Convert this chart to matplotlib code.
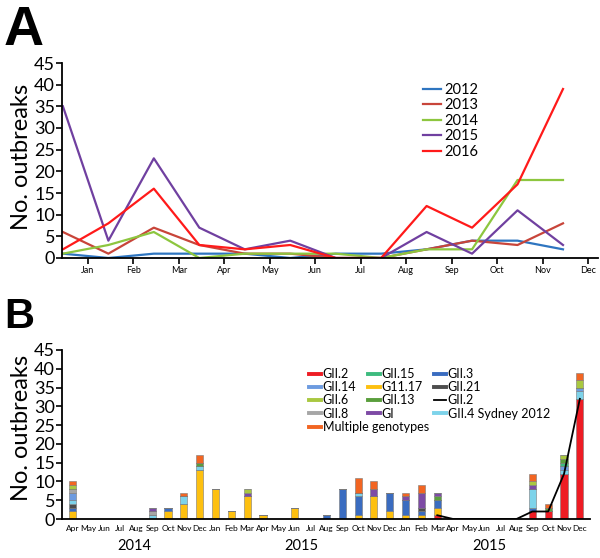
import numpy as np
import matplotlib
matplotlib.use("Agg")
import matplotlib.pyplot as plt
from matplotlib.lines import Line2D

plt.rcParams['font.family'] = ['Lato', 'DejaVu Sans']

# ---- panel A: monthly outbreaks per year
months_a = ["Jan", "Feb", "Mar", "Apr", "May", "Jun", "Jul", "Aug", "Sep", "Oct", "Nov", "Dec"]
y2012 = [1, 0, 1, 1, 1, 0, 1, 1, 2, 4, 4, 2]
y2013 = [6, 1, 7, 3, 1, 1, 0, 0, 2, 4, 3, 8]
y2014 = [1, 3, 6, 0, 1, 1, 1, 0, 2, 2, 18, 18]
y2015 = [35, 4, 23, 7, 2, 4, 0, 0, 6, 1, 11, 3]
y2016 = [2, 8, 16, 3, 2, 3, 0, 0, 12, 7, 17, 39]
years_a = ["2012", "2013", "2014", "2015", "2016"]
colors_a = ["#2e75c0", "#c8453a", "#8dc63f", "#7040a0", "#ff1a1a"]

# ---- panel B: genotypes by month, Apr 2014 - Dec 2016
months_b = ["Apr", "May", "Jun", "Jul", "Aug", "Sep", "Oct", "Nov", "Dec",
            "Jan", "Feb", "Mar", "Apr", "May", "Jun", "Jul", "Aug", "Sep", "Oct", "Nov", "Dec",
            "Jan", "Feb", "Mar", "Apr", "May", "Jun", "Jul", "Aug", "Sep", "Oct", "Nov", "Dec"]
year_labels = ["2014", "2015", "2015"]
year_pos = [3.9, 14.4, 26.3]

gii2     = [0, 0, 0, 0, 0, 0, 0, 0, 0, 0, 0, 0, 0, 0, 0, 0, 0, 0, 0, 0, 0, 0, 0, 1, 0, 0, 0, 0, 0, 2, 2, 12, 32]
g1117    = [2, 0, 0, 0, 0, 0, 2, 4, 13, 8, 2, 6, 1, 0, 3, 0, 0, 0, 1, 6, 2, 1, 1, 2, 0, 0, 0, 0, 0, 0, 0, 0, 0]
gii3     = [1, 0, 0, 0, 0, 0, 1, 0, 0, 0, 0, 0, 0, 0, 0, 0, 1, 8, 5, 0, 5, 4, 1, 2, 0, 0, 0, 0, 0, 1, 0, 0, 0]
gii21    = [1, 0, 0, 0, 0, 0, 0, 0, 0, 0, 0, 0, 0, 0, 0, 0, 0, 0, 0, 0, 0, 0, 1, 0, 0, 0, 0, 0, 0, 0, 0, 0, 0]
gii4     = [1, 0, 0, 0, 0, 1, 0, 2, 1, 0, 0, 0, 0, 0, 0, 0, 0, 0, 1, 0, 0, 0, 0, 0, 0, 0, 0, 0, 0, 5, 0, 1, 2]
gii14    = [2, 0, 0, 0, 0, 0, 0, 0, 0, 0, 0, 0, 0, 0, 0, 0, 0, 0, 0, 0, 0, 0, 0, 0, 0, 0, 0, 0, 0, 0, 0, 1, 1]
gii8     = [1, 0, 0, 0, 0, 1, 0, 0, 0, 0, 0, 0, 0, 0, 0, 0, 0, 0, 0, 0, 0, 0, 0, 0, 0, 0, 0, 0, 0, 0, 0, 0, 0]
gii15    = [0, 0, 0, 0, 0, 0, 0, 0, 0, 0, 0, 0, 0, 0, 0, 0, 0, 0, 0, 0, 0, 0, 0, 0, 0, 0, 0, 0, 0, 0, 0, 1, 0]
gii13    = [0, 0, 0, 0, 0, 0, 0, 0, 1, 0, 0, 0, 0, 0, 0, 0, 0, 0, 0, 0, 0, 0, 0, 1, 0, 0, 0, 0, 0, 0, 1, 1, 0]
gi       = [0, 0, 0, 0, 0, 1, 0, 0, 0, 0, 0, 1, 0, 0, 0, 0, 0, 0, 0, 2, 0, 1, 4, 1, 0, 0, 0, 0, 0, 1, 0, 0, 0]
gii6     = [1, 0, 0, 0, 0, 0, 0, 0, 0, 0, 0, 1, 0, 0, 0, 0, 0, 0, 0, 0, 0, 0, 0, 0, 0, 0, 0, 0, 0, 1, 0, 1, 2]
multiple = [1, 0, 0, 0, 0, 0, 0, 1, 2, 0, 0, 0, 0, 0, 0, 0, 0, 0, 4, 2, 0, 1, 2, 0, 0, 0, 0, 0, 0, 2, 1, 0, 2]
# GII.2 trend line, Mar 2016 onward
line_start = 23
gii2_line = [1, 0, 0, 0, 0, 0, 2, 2, 12, 32]

stack = [("GII.2", gii2, "#ee1c24"), ("G11.17", g1117, "#fdc010"), ("GII.3", gii3, "#3a6cc0"),
         ("GII.21", gii21, "#4d4d4d"), ("GII.4 Sydney 2012", gii4, "#7dd3ea"),
         ("GII.14", gii14, "#6d9be0"), ("GII.8", gii8, "#a6a6a6"), ("GII.15", gii15, "#3dbb7e"),
         ("GII.13", gii13, "#5a9e3c"), ("GI", gi, "#7d4aa5"), ("GII.6", gii6, "#a9c840"),
         ("Multiple genotypes", multiple, "#f26522")]

fig = plt.figure(figsize=(6, 5.58), dpi=100)
W, H = 600, 558

def style_axes(ax):
    for s in ["top", "right"]:
        ax.spines[s].set_visible(False)
    for s in ["left", "bottom"]:
        ax.spines[s].set_linewidth(1.3)
    ax.set_ylim(0, 45)
    ax.set_yticks(np.arange(0, 46, 5))
    ax.tick_params(axis="y", labelsize=13, length=4, width=1.2, pad=1)


# panel A
axA = fig.add_axes([62 / W, 1 - 258 / H, 536 / W, 195 / H])
xa = np.arange(len(months_a))
for lab, vals, c in zip(years_a, [y2012, y2013, y2014, y2015, y2016], colors_a):
    axA.plot(xa, vals, color=c, lw=1.6, label=lab)
style_axes(axA)
axA.set_xlim(-0.02, 11.77)
axA.set_xticks(xa + 0.55)
axA.set_xticklabels(months_a)
axA.tick_params(axis="x", labelsize=6.5, length=4, width=1.2, pad=2)
axA.legend(loc="upper left", bbox_to_anchor=(423 / W, 1 - 83 / H), bbox_transform=fig.transFigure,
           frameon=False, fontsize=10.5, handlelength=1.2, handletextpad=0.25,
           labelspacing=0.1, borderpad=0, borderaxespad=0)

# panel B
axB = fig.add_axes([62 / W, 1 - 519 / H, 528 / W, 169 / H])
xb = np.arange(len(months_b))
bottom = np.zeros(len(months_b))
handles = {}
for lab, vals, c in stack:
    vals = np.array(vals, dtype=float)
    axB.bar(xb, vals, bottom=bottom, width=0.45, color=c, edgecolor="#7a7a7a", linewidth=0.4)
    bottom += vals
    handles[lab] = Line2D([], [], color=c, lw=2.8)
axB.plot(np.arange(line_start, line_start + len(gii2_line)), gii2_line, color="black", lw=1.3)
handles["GII.2 line"] = Line2D([], [], color="black", lw=1.3)
style_axes(axB)
axB.set_xlim(-0.69, 32.64)
axB.set_xticks(xb)
axB.set_xticklabels(months_b)
axB.tick_params(axis="x", labelsize=6, length=0, pad=4)
for lab, pos in zip(year_labels, year_pos):
    axB.text(pos, -0.16, lab, transform=axB.get_xaxis_transform(), ha="center", va="center", fontsize=10.5)

cols = [["GII.2", "GII.14", "GII.6", "GII.8", "Multiple genotypes"],
        ["GII.15", "G11.17", "GII.13", "GI"],
        ["GII.3", "GII.21", "GII.2 line", "GII.4 Sydney 2012"]]
col_x = [309, 368, 434]
for names, cx in zip(cols, col_x):
    fig.legend([handles[n] for n in names], [n.replace(" line", "") for n in names],
               loc="upper left", bbox_to_anchor=(cx / W, 1 - 368 / H), bbox_transform=fig.transFigure,
               frameon=False, fontsize=9, handlelength=0.95, handletextpad=0.15,
               labelspacing=0.1, borderpad=0, borderaxespad=0)

# y labels and panel letters
for yc in [157, 428]:
    fig.text(21 / W, 1 - yc / H, "No. outbreaks", rotation=90, ha="center", va="center", fontsize=17)
fig.text(4 / W, 1 - 45 / H, "A", fontsize=40, fontweight="bold", family="Liberation Sans", va="baseline")
fig.text(4 / W, 1 - 328 / H, "B", fontsize=30, fontweight="bold", family="Liberation Sans", va="baseline")

fig.savefig("out.png", dpi=100)
